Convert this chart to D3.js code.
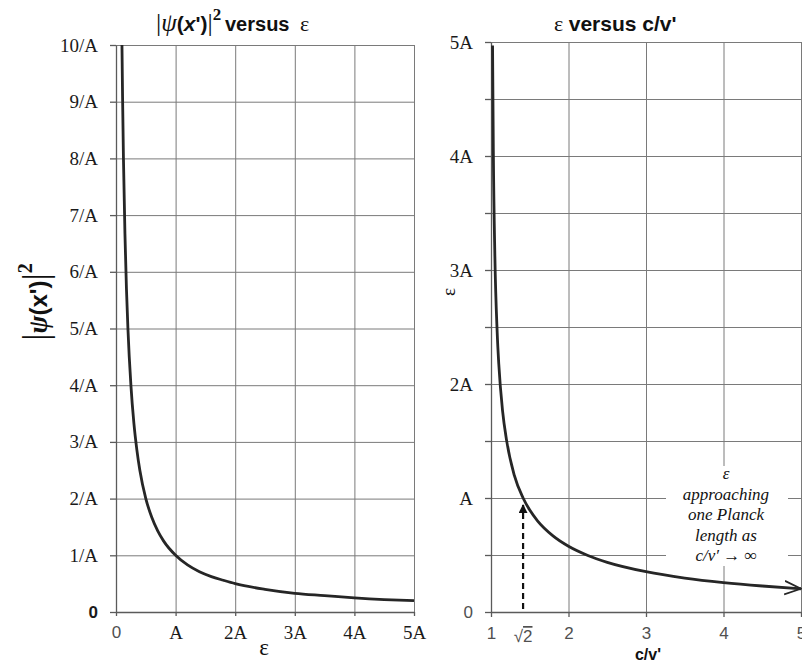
<!DOCTYPE html>
<html>
<head>
<meta charset="utf-8">
<script src="https://cdn.jsdelivr.net/npm/d3@7"></script>
<style>
  body { margin: 0; background: #fff; }
  svg { display: block; }
</style>
</head>
<body>
<div class="d3-content"></div>
<script>
// shared constants
/************************/
/*      Dimensions      */
/************************/
const width = 802;
const height = 665;
const left = { x0: 116, x1: 414, y0: 612, y1: 45 };
const right = { x0: 491, x1: 801, y0: 612, y1: 42 };

/**********************/
/*       Colors       */
/**********************/
const gridColor = '#7a7a7a';
const axisColor = '#5a5a5a';
const curveColor = '#262626';
const labelColor = '#1a1a1a';
const sansLabelColor = '#505050';

const serif = '"Liberation Serif", "Times New Roman", serif';
const sans = '"Liberation Sans", Arial, sans-serif';

/***********************/
/*        Data         */
/***********************/
// left chart: |psi(x')|^2 versus epsilon (units of A)
const leftEps = [0.1, 0.11, 0.125, 0.15, 0.175, 0.2, 0.25, 0.3, 0.35, 0.4, 0.5, 0.6, 0.7, 0.8, 1.0,
  1.2, 1.4, 1.6, 1.8, 2.0, 2.5, 3.0, 3.5, 4.0, 4.5, 5.0];
const leftPsi2 = [10, 9.1, 8.0, 6.67, 5.71, 5.0, 4.0, 3.33, 2.86, 2.5, 2.0, 1.67, 1.43, 1.25, 1.0,
  0.83, 0.71, 0.625, 0.56, 0.5, 0.4, 0.33, 0.29, 0.25, 0.22, 0.2];

// right chart: epsilon versus c/v'
const rightCv = [1.02, 1.03, 1.05, 1.08, 1.1, 1.15, 1.2, 1.3, 1.414, 1.5, 1.6, 1.8, 2.0, 2.25, 2.5,
  3.0, 3.5, 4.0, 4.5, 5.0];
const rightEps = [4.97, 4.05, 3.12, 2.45, 2.18, 1.76, 1.51, 1.2, 1.0, 0.894, 0.8, 0.668, 0.577, 0.496, 0.436,
  0.354, 0.298, 0.258, 0.228, 0.204];

// ticks and labels
const leftYTicks = [0, 1, 2, 3, 4, 5, 6, 7, 8, 9, 10];
const leftYLabels = ['0', '1/A', '2/A', '3/A', '4/A', '5/A', '6/A', '7/A', '8/A', '9/A', '10/A'];
const leftXTicks = [0, 1, 2, 3, 4, 5];
const leftXLabels = ['0', 'A', '2A', '3A', '4A', '5A'];
const rightYTicks = [0, 0.5, 1, 1.5, 2, 2.5, 3, 3.5, 4, 4.5, 5];
const rightYLabels = ['0', '', 'A', '', '2A', '', '3A', '', '4A', '', '5A'];
const rightXTicks = [1, 2, 3, 4, 5];
const rightXLabels = ['1', '2', '3', '4', '5'];
const markerCv = 1.414;   // sqrt(2)
const markerEps = 1;
const noteLines = ['ε', 'approaching', 'one Planck', 'length as', 'c/v′ → ∞'];

/*******************************/
/*    Append the containers    */
/*******************************/
const svg = d3.select('.d3-content')
  .append('svg')
    .attr('width', width)
    .attr('height', height)
    .attr('viewBox', `0, 0, ${width}, ${height}`);

svg.append('rect')
  .attr('width', width)
  .attr('height', height)
  .attr('fill', '#fff');

const defs = svg.append('defs');
defs.append('marker')
    .attr('id', 'open-arrow')
    .attr('viewBox', '0 0 12 12')
    .attr('refX', 11)
    .attr('refY', 6)
    .attr('markerWidth', 18)
    .attr('markerHeight', 18)
    .attr('markerUnits', 'userSpaceOnUse')
    .attr('orient', 'auto')
  .append('path')
    .attr('d', 'M0,1.5 L11,6 L0,10.5')
    .attr('fill', 'none')
    .attr('stroke', curveColor)
    .attr('stroke-width', 1.2);
defs.append('marker')
    .attr('id', 'solid-arrow')
    .attr('viewBox', '0 0 10 10')
    .attr('refX', 9)
    .attr('refY', 5)
    .attr('markerWidth', 9)
    .attr('markerHeight', 9)
    .attr('markerUnits', 'userSpaceOnUse')
    .attr('orient', 'auto')
  .append('path')
    .attr('d', 'M0,0 L10,5 L0,10 Z')
    .attr('fill', '#111');

/****************************/
/*    Declare the scales    */
/****************************/
const xL = d3.scaleLinear().domain([0, 5]).range([left.x0, left.x1]);
const yL = d3.scaleLinear().domain([0, 10]).range([left.y0, left.y1]);
const xR = d3.scaleLinear().domain([1, 5]).range([right.x0, right.x1]);
const yR = d3.scaleLinear().domain([0, 5]).range([right.y0, right.y1]);

/*******************************/
/*       Grid and axes         */
/*******************************/
const styleGrid = g => {
  g.select('.domain').remove();
  g.selectAll('.tick line').attr('stroke', gridColor).attr('stroke-width', 1);
  g.selectAll('.tick text').remove();
};

const styleAxis = (g) => {
  g.select('.domain').attr('stroke', axisColor).attr('stroke-width', 1.3);
  g.selectAll('.tick line').attr('stroke', axisColor).attr('stroke-width', 1.3);
};

const labelFont = (sel, labels, ticks) => {
  sel.selectAll('.tick text')
    .attr('font-family', d => labels[ticks.indexOf(d)] === '0' ? sans : serif)
    .attr('font-size', d => labels[ticks.indexOf(d)] === '0' ? 17 : 19)
    .attr('fill', d => labels[ticks.indexOf(d)] === '0' ? sansLabelColor : labelColor);
};

// left chart grid
svg.append('g')
  .attr('transform', `translate(${left.x0},0)`)
  .call(d3.axisLeft(yL).tickValues(leftYTicks).tickSize(-(left.x1 - left.x0)).tickSizeOuter(0))
  .call(styleGrid);
svg.append('g')
  .attr('transform', `translate(0,${left.y0})`)
  .call(d3.axisBottom(xL).tickValues(leftXTicks).tickSize(-(left.y0 - left.y1)).tickSizeOuter(0))
  .call(styleGrid);

// left chart axes
const leftYAxis = svg.append('g')
  .attr('transform', `translate(${left.x0},0)`)
  .call(d3.axisLeft(yL).tickValues(leftYTicks).tickSize(6).tickSizeOuter(0).tickPadding(12)
    .tickFormat((d, i) => leftYLabels[i]))
  .call(styleAxis)
  .call(g => labelFont(g, leftYLabels, leftYTicks));
leftYAxis.selectAll('.tick text')
  .filter(d => d === 0)
  .attr('font-weight', 'bold')
  .attr('fill', labelColor);

svg.append('g')
  .attr('transform', `translate(0,${left.y0})`)
  .call(d3.axisBottom(xL).tickValues(leftXTicks).tickSize(4).tickSizeOuter(0).tickPadding(10)
    .tickFormat((d, i) => leftXLabels[i]))
  .call(styleAxis)
  .call(g => labelFont(g, leftXLabels, leftXTicks));

// right chart grid
svg.append('g')
  .attr('transform', `translate(${right.x0},0)`)
  .call(d3.axisLeft(yR).tickValues(rightYTicks).tickSize(-(right.x1 - right.x0)).tickSizeOuter(0))
  .call(styleGrid);
svg.append('g')
  .attr('transform', `translate(0,${right.y0})`)
  .call(d3.axisBottom(xR).tickValues(rightXTicks).tickSize(-(right.y0 - right.y1)).tickSizeOuter(0))
  .call(styleGrid);

// right chart axes
svg.append('g')
  .attr('transform', `translate(${right.x0},0)`)
  .call(d3.axisLeft(yR).tickValues(rightYTicks).tickSize(6).tickSizeOuter(0).tickPadding(12)
    .tickFormat((d, i) => rightYLabels[i]))
  .call(styleAxis)
  .call(g => labelFont(g, rightYLabels, rightYTicks));

svg.append('g')
  .attr('transform', `translate(0,${right.y0})`)
  .call(d3.axisBottom(xR).tickValues(rightXTicks).tickSize(5).tickSizeOuter(0).tickPadding(10)
    .tickFormat((d, i) => rightXLabels[i]))
  .call(styleAxis)
  .call(g => g.selectAll('.tick text')
    .attr('font-family', sans)
    .attr('font-size', 17)
    .attr('fill', sansLabelColor));

/*******************************/
/*          Curves             */
/*******************************/
const leftLine = d3.line()
  .x((d, i) => xL(leftEps[i]))
  .y(d => yL(d))
  .curve(d3.curveMonotoneX);
svg.append('path')
  .attr('d', leftLine(leftPsi2))
  .attr('fill', 'none')
  .attr('stroke', curveColor)
  .attr('stroke-width', 2.8);

const rightLine = d3.line()
  .x((d, i) => xR(rightCv[i]))
  .y(d => yR(d))
  .curve(d3.curveMonotoneX);
svg.append('path')
  .attr('d', rightLine(rightEps))
  .attr('fill', 'none')
  .attr('stroke', curveColor)
  .attr('stroke-width', 2.8)
  .attr('marker-end', 'url(#open-arrow)');

/*******************************/
/*     sqrt(2) annotation      */
/*******************************/
svg.append('line')
  .attr('x1', xR(markerCv))
  .attr('x2', xR(markerCv))
  .attr('y1', yR(0) - 3)
  .attr('y2', yR(markerEps) + 7)
  .attr('stroke', '#111')
  .attr('stroke-width', 2.2)
  .attr('stroke-dasharray', '6,4')
  .attr('marker-end', 'url(#solid-arrow)');

const sqrtLabel = svg.append('text')
  .attr('x', xR(markerCv))
  .attr('y', right.y0 + 30)
  .attr('text-anchor', 'middle')
  .attr('font-family', sans)
  .attr('font-size', 17)
  .attr('fill', sansLabelColor);
sqrtLabel.append('tspan').text('√');
sqrtLabel.append('tspan').text('2').attr('text-decoration', 'overline');

/*******************************/
/*       Note text box         */
/*******************************/
svg.append('rect')
  .attr('x', 666)
  .attr('y', 466)
  .attr('width', 122)
  .attr('height', 100)
  .attr('fill', '#fff');
svg.append('g')
  .selectAll('text')
  .data(noteLines)
  .join('text')
    .attr('x', 726)
    .attr('y', (d, i) => 479 + i * 20.5)
    .attr('text-anchor', 'middle')
    .attr('font-family', serif)
    .attr('font-style', 'italic')
    .attr('font-size', 17)
    .attr('fill', '#111')
    .text(d => d);

/*******************************/
/*     Titles and labels       */
/*******************************/
// left title
const leftTitle = svg.append('text')
  .attr('x', 156)
  .attr('y', 31)
  .attr('fill', '#111');
leftTitle.append('tspan').text('|').attr('font-family', serif).attr('font-size', 26);
leftTitle.append('tspan').text('ψ').attr('font-family', serif).attr('font-style', 'italic').attr('font-size', 25);
leftTitle.append('tspan').text('(').attr('font-family', sans).attr('font-weight', 'bold').attr('font-size', 21);
leftTitle.append('tspan').text('x').attr('font-family', sans).attr('font-weight', 'bold').attr('font-style', 'italic').attr('font-size', 21);
leftTitle.append('tspan').text('\')').attr('font-family', sans).attr('font-weight', 'bold').attr('font-size', 21);
leftTitle.append('tspan').text('|').attr('font-family', serif).attr('font-size', 26);
leftTitle.append('tspan').text('2').attr('font-family', serif).attr('font-weight', 'bold').attr('font-size', 17).attr('dy', -11);
leftTitle.append('tspan').text('versus').attr('x', 225).attr('font-family', sans).attr('font-weight', 'bold').attr('font-size', 20).attr('dy', 11);
leftTitle.append('tspan').text('ε').attr('x', 300).attr('font-family', serif).attr('font-size', 22);

// right title
const rightTitle = svg.append('text')
  .attr('x', 554)
  .attr('y', 31)
  .attr('fill', '#111');
rightTitle.append('tspan').text('ε ').attr('font-family', serif).attr('font-size', 22);
rightTitle.append('tspan').text('versus c/v\'').attr('font-family', sans).attr('font-weight', 'bold').attr('font-size', 21);

// left y label (rotated)
const leftYLabel = svg.append('text')
  .attr('transform', 'translate(47,302) rotate(-90)')
  .attr('text-anchor', 'middle')
  .attr('fill', '#111');
leftYLabel.append('tspan').text('|').attr('font-family', serif).attr('font-size', 36);
leftYLabel.append('tspan').text('ψ').attr('font-family', serif).attr('font-style', 'italic').attr('font-weight', 'bold').attr('font-size', 27);
leftYLabel.append('tspan').text('(x\')').attr('font-family', sans).attr('font-weight', 'bold').attr('font-size', 24);
leftYLabel.append('tspan').text('|').attr('font-family', serif).attr('font-size', 36);
leftYLabel.append('tspan').text('2').attr('font-family', serif).attr('font-weight', 'bold').attr('font-size', 20).attr('dy', -15);

// left x label
svg.append('text')
  .attr('x', 264)
  .attr('y', 655)
  .attr('text-anchor', 'middle')
  .attr('font-family', serif)
  .attr('font-size', 23)
  .attr('fill', '#111')
  .text('ε');

// right y label
svg.append('text')
  .attr('transform', 'translate(455,292) rotate(-90)')
  .attr('text-anchor', 'middle')
  .attr('font-family', serif)
  .attr('font-size', 19)
  .attr('fill', '#111')
  .text('ε');

// right x label
svg.append('text')
  .attr('x', 648)
  .attr('y', 660)
  .attr('text-anchor', 'middle')
  .attr('font-family', sans)
  .attr('font-weight', 'bold')
  .attr('font-size', 16)
  .attr('fill', '#111')
  .text('c/v\'');
</script>
</body>
</html>
